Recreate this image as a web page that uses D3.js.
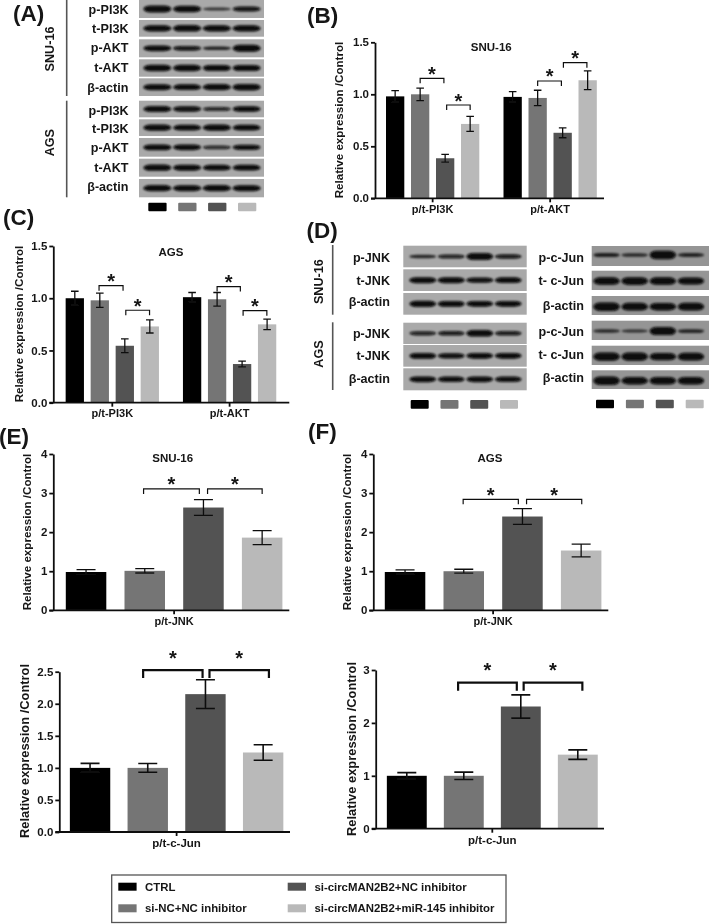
<!DOCTYPE html>
<html><head><meta charset="utf-8">
<script src="https://cdn.jsdelivr.net/npm/d3@7/dist/d3.min.js"></script>
<style>html,body{margin:0;padding:0;background:#fff}svg{display:block}
text{font-family:"Liberation Sans",Arial,sans-serif;font-weight:bold;fill:#151515}</style>
</head><body><svg id="c" width="709" height="924"></svg>
<script>
// ---------- data ----------
const seriesNames=["CTRL","si-NC+NC inhibitor","si-circMAN2B2+NC inhibitor","si-circMAN2B2+miR-145 inhibitor"];
const seriesColors=["#000000","#757575","#525252","#b9b9b9"];
const groupsPI3KAKT=["p/t-PI3K","p/t-AKT"];
const bValues=[[0.98,1.0,0.385,0.715],[0.975,0.965,0.63,1.135]];
const bErrors=[[0.055,0.06,0.038,0.072],[0.05,0.074,0.048,0.09]];
const cValues=[[1.0,0.98,0.545,0.73],[1.01,0.99,0.37,0.75]];
const cErrors=[[0.067,0.068,0.066,0.063],[0.045,0.065,0.028,0.05]];
const eJnkValues=[[0.98,1.01,2.63,1.86]];
const eJnkErrors=[[0.06,0.055,0.2,0.18]];
const eJunValues=[[1.0,1.0,2.15,1.24]];
const eJunErrors=[[0.07,0.068,0.225,0.12]];
const fJnkValues=[[0.98,1.0,2.4,1.53]];
const fJnkErrors=[[0.055,0.05,0.2,0.165]];
const fJunValues=[[1.0,1.0,2.31,1.4]];
const fJunErrors=[[0.06,0.07,0.22,0.09]];
// brackets: from-bar, to-bar (bar index units), level (axis units)
const bBrackets=[[1.0,1.95,1.154],[2.06,3.0,0.897],[5.0,5.95,1.128],[6.03,6.97,1.304]];
const cBrackets=[[0.97,1.93,1.12],[2.04,2.99,0.885],[5.0,5.93,1.112],[6.04,6.99,0.881]];
const eJnkBrackets=[[0.98,1.93,3.105],[2.07,3.0,3.105]];
const eJunBrackets=[[0.92,1.95,2.526],[2.07,3.1,2.526]];
const fJnkBrackets=[[0.99,1.93,2.84],[2.07,3.01,2.84]];
const fJunBrackets=[[0.9,1.93,2.76],[2.05,3.08,2.76]];
// blots: row labels and band strength per lane
const aRows=["p-PI3K","t-PI3K","p-AKT","t-AKT","β-actin","p-PI3K","t-PI3K","p-AKT","t-AKT","β-actin"];
const aBands=[[.9,.85,.22,.6],[.8,.85,.8,.8],[.7,.55,.35,.95],[.85,.85,.8,.8],[.75,.7,.8,.85],[.75,.65,.4,.7],[.8,.7,.8,.7],[.75,.7,.38,.65],[.8,.75,.7,.7],[.8,.75,.8,.75]];
const dLeftRows=["p-JNK","t-JNK","β-actin","p-JNK","t-JNK","β-actin"];
const dLeftBands=[[.3,.45,.95,.5],[.75,.75,.65,.7],[.8,.75,.7,.7],[.45,.5,.85,.5],[.75,.65,.7,.7],[.7,.65,.7,.65]];
const dRightRows=["p-c-Jun","t- c-Jun","β-actin","p-c-Jun","t- c-Jun","β-actin"];
const dRightBands=[[.35,.25,.95,.3],[.8,.85,.8,.75],[.95,.85,.8,.85],[.25,.2,.9,.3],[.9,.9,.8,.85],[.95,.8,.85,.85]];
const yLabel="Relative expression /Control";

// ---------- layout ----------
const svg=d3.select("#c");
const defs=svg.append("defs");
defs.append("filter").attr("id","soft").attr("x",0).attr("y",0).attr("width",1).attr("height",1)
  .append("feGaussianBlur").attr("stdDeviation",0.4);
defs.append("filter").attr("id","band").attr("x","-30%").attr("y","-100%").attr("width","160%").attr("height","300%")
  .append("feGaussianBlur").attr("stdDeviation",0.9);
const root=svg.append("g").attr("filter","url(#soft)");
root.append("rect").attr("width",709).attr("height",924).attr("fill","#fff");

function chart(o){
  const g=root.append("g");
  const y=d3.scaleLinear().domain(o.domain).range([o.y0,o.yTop]);
  const x0=d3.scaleBand().domain(o.groups).range([o.start,o.end]).paddingInner(o.gap);
  const xi=d3.scaleBand().domain(seriesNames).range([0,x0.bandwidth()]).paddingInner(o.pad).paddingOuter(o.pad/2);
  const bars=o.values.flatMap((vals,gi)=>vals.map((v,si)=>({v,e:o.errors[gi][si],gi,si,g:o.groups[gi],s:seriesNames[si]})));
  const cx=d=>x0(d.g)+xi(d.s)+xi.bandwidth()/2;
  const slot=d3.scaleLinear().domain(bars.map((d,i)=>i)).range(bars.map(cx));
  g.selectAll("rect.bar").data(bars).join("rect").attr("class","bar")
    .attr("x",d=>x0(d.g)+xi(d.s)).attr("width",xi.bandwidth())
    .attr("y",d=>y(d.v)).attr("height",d=>o.y0-y(d.v)).attr("fill",d=>seriesColors[d.si]);
  const eg=g.append("g").attr("stroke","#111").attr("stroke-width",o.errW).attr("fill","none");
  eg.selectAll("path").data(bars).join("path").attr("d",d=>{
    const c=cx(d),t=y(d.v+d.e),b=y(d.v-d.e),w=o.cap;
    return `M${c-w},${t}H${c+w}M${c},${t}V${b}M${c-w},${b}H${c+w}`;});
  // axes
  const ya=d3.axisLeft(y).tickValues(o.ticks).tickFormat(d3.format(o.fmt)).tickSize(4).tickPadding(2).tickSizeOuter(0);
  const ag=g.append("g").attr("transform",`translate(${o.xAxis},0)`).call(ya);
  ag.selectAll("text").style("font-size",o.tickFs+"px").attr("fill","#151515");
  ag.selectAll("line,path").attr("stroke","#111").attr("stroke-width",1.8);
  const xa=d3.axisBottom(x0).tickSize(4).tickSizeOuter(0).tickPadding(o.labPad);
  const bg=g.append("g").attr("transform",`translate(0,${o.y0})`).call(xa);
  bg.select("path.domain").remove();
  bg.selectAll("text").style("font-size",o.catFs+"px");
  bg.selectAll("line").attr("stroke","#111").attr("stroke-width",1.8);
  g.append("line").attr("x1",o.xAxis-4).attr("x2",o.axisEnd).attr("y1",o.y0).attr("y2",o.y0).attr("stroke","#111").attr("stroke-width",1.8);
  g.append("text").attr("transform",`translate(${o.labX},${o.labY}) rotate(-90)`).attr("text-anchor","middle")
    .style("font-size",o.labFs+"px").text(yLabel);
  if(o.title) g.append("text").attr("x",o.titleX).attr("y",o.titleY).attr("text-anchor","middle").style("font-size","11.5px").text(o.title);
  // brackets + stars
  const bg2=g.append("g");
  bg2.selectAll("path").data(o.brackets).join("path").attr("fill","none").attr("stroke","#111").attr("stroke-width",o.brW)
    .attr("d",d=>`M${slot(d[0])},${y(d[2])+o.brH}V${y(d[2])}H${slot(d[1])}V${y(d[2])+o.brH}`);
  bg2.selectAll("text").data(o.brackets).join("text").attr("text-anchor","middle").style("font-size","20px")
    .attr("x",d=>(slot(d[0])+slot(d[1]))/2+(o.starDx||0)).attr("y",d=>y(d[2])-o.starUp+9.5).text("*");
}

chart({groups:groupsPI3KAKT,values:bValues,errors:bErrors,brackets:bBrackets,domain:[0,1.5],ticks:[0,.5,1,1.5],fmt:".1f",
  y0:198.3,yTop:42.3,xAxis:375,start:382.65,end:600.15,gap:.149,pad:.268,axisEnd:604,cap:3.8,errW:1.3,brW:1.2,brH:5,starUp:7,
  labX:343,labY:120,labFs:11.6,tickFs:11.5,catFs:11,labPad:3,title:"SNU-16",titleX:491.3,titleY:50.5});
chart({groups:groupsPI3KAKT,values:cValues,errors:cErrors,brackets:cBrackets,domain:[0,1.5],ticks:[0,.5,1,1.5],fmt:".1f",
  y0:402.7,yTop:246,xAxis:53.3,start:62.3,end:279.6,gap:.1475,pad:.268,axisEnd:289.3,cap:3.8,errW:1.3,brW:1.2,brH:5,starUp:7,
  labX:23,labY:324,labFs:11.6,tickFs:11.5,catFs:11,labPad:3,title:"AGS",titleX:171,titleY:255.5});
chart({groups:["p/t-JNK"],values:eJnkValues,errors:eJnkErrors,brackets:eJnkBrackets,domain:[0,4],ticks:[0,1,2,3,4],fmt:"d",
  y0:610.3,yTop:454,xAxis:53.3,start:56.7,end:291.5,gap:0,pad:.31,axisEnd:289.3,cap:9.5,errW:1.3,brW:1.2,brH:5,starUp:7,
  labX:31,labY:532,labFs:11.6,tickFs:11.5,catFs:11,labPad:3,title:"SNU-16",titleX:172.7,titleY:462});
chart({groups:["p/t-c-Jun"],values:eJunValues,errors:eJunErrors,brackets:eJunBrackets,domain:[0,2.5],ticks:[0,.5,1,1.5,2,2.5],fmt:".1f",
  y0:832,yTop:671.7,xAxis:59.3,start:61.2,end:292,gap:0,pad:.3,axisEnd:290,cap:9.5,errW:1.6,brW:2.2,brH:8,starUp:15,
  labX:29,labY:751,labFs:12.9,tickFs:11.5,catFs:11.5,labPad:3,titleX:0,titleY:0});
chart({groups:["p/t-JNK"],values:fJnkValues,errors:fJnkErrors,brackets:fJnkBrackets,domain:[0,4],ticks:[0,1,2,3,4],fmt:"d",
  y0:610.3,yTop:454,xAxis:373.3,start:375.7,end:610.5,gap:0,pad:.31,axisEnd:608.3,cap:9.5,errW:1.3,brW:1.2,brH:5,starUp:7,
  labX:350.5,labY:532,labFs:11.6,tickFs:11.5,catFs:11,labPad:3,title:"AGS",titleX:490,titleY:462});
chart({groups:["p/t-c-Jun"],values:fJunValues,errors:fJunErrors,brackets:fJunBrackets,domain:[0,3],ticks:[0,1,2,3],fmt:"d",
  y0:828.7,yTop:670,xAxis:375.7,start:378.3,end:606.3,gap:0,pad:.3,axisEnd:604,cap:9.5,errW:1.6,brW:2.2,brH:8,starUp:15,
  labX:356,labY:749,labFs:12.9,tickFs:11.5,catFs:11.5,labPad:3,titleX:0,titleY:0});

// ---------- blots ----------
function blot(o){
  const g=root.append("g");
  const lane=d3.scaleBand().domain(d3.range(4)).range(o.laneRange);
  const h=d3.scaleLinear().domain([0,1]).range([.8,o.maxH]);
  const op=d3.scaleLinear().domain([0,.4,.7]).range([.55,.85,1]).clamp(true);
  o.tops.forEach((t,r)=>{
    g.append("rect").attr("x",o.x).attr("width",o.w).attr("y",t[0]).attr("height",t[1]-t[0]).attr("fill",o.bg);
    const cy=(t[0]+t[1])/2+(o.dy?o.dy[r]:0);
    g.append("g").attr("filter","url(#band)").selectAll("rect").data(o.bands[r]).join("rect")
      .attr("x",(d,i)=>lane(i)+lane.bandwidth()*.03).attr("width",lane.bandwidth()*.94)
      .attr("y",d=>cy-h(d)).attr("height",d=>2*h(d)).attr("rx",lane.bandwidth()*.25).attr("ry",d=>h(d))
      .attr("fill","#080808").attr("opacity",d=>op(d));
    g.append("text").attr("x",o.labX).attr("y",o.labY[r]+4.5).attr("text-anchor","end").style("font-size",o.fs+"px").text(o.rows[r]);
  });
}
const aTops=[[0,18],[20,36.7],[39.3,57.3],[59.3,76.7],[78.3,96],[100.7,117.3],[119.3,136],[138,156.7],[158.7,176.7],[179,197.3]];
blot({x:139,w:125,bg:"#a9a9a9",laneRange:[142.5,261.5],tops:aTops,bands:aBands,rows:aRows,labX:128.5,fs:12.6,maxH:3.7,
  labY:[9.5,28.5,47.5,67,87,110,128.5,147.5,167,186.5]});
blot({x:403.3,w:123.4,bg:"#a9a9a9",laneRange:[408.5,522.5],tops:[[245.7,267.3],[269.3,291],[293,314.7],[322.7,344],[345,366.7],[368.3,390.3]],
  bands:dLeftBands,rows:dLeftRows,labX:390,fs:12.6,maxH:3.7,labY:[257.3,280.7,301.7,333.3,355.7,378.3]});
blot({x:591.7,w:117.3,bg:"#959595",laneRange:[592.5,705],tops:[[246,266],[270.7,290],[296,315],[320.7,340],[345.7,365],[370.3,389]],
  bands:dRightBands,rows:dRightRows,labX:584,fs:12.6,maxH:4.4,labY:[257.3,280.3,305,331,354,377.7],dy:[-1,.7,1.2,.7,1.3,1.1]});

// chips under blots
function chips(x0,x1,y,h,w){
  const s=d3.scalePoint().domain(seriesNames).range([x0,x1]);
  root.append("g").selectAll("rect").data(seriesNames).join("rect")
    .attr("x",d=>s(d)).attr("y",y).attr("width",w).attr("height",h).attr("rx",1).attr("fill",(d,i)=>seriesColors[i]);
}
chips(148.3,238,202.7,8.5,18.3);
chips(410.7,500,400,8.7,18);
chips(596,685.7,399.7,8.5,18);

// vertical rules and side labels
const rules=[[66.7,0,96],[66.7,100.7,197.3],[332.7,245,314.7],[332.7,322.3,390]];
root.append("g").selectAll("line").data(rules).join("line").attr("x1",d=>d[0]).attr("x2",d=>d[0]).attr("y1",d=>d[1]).attr("y2",d=>d[2]).attr("stroke","#555").attr("stroke-width",1.6);
const sideLabels=[["SNU-16",54,49],["AGS",54,142.7],["SNU-16",323,281.7],["AGS",323,354]];
root.append("g").selectAll("text").data(sideLabels).join("text").attr("text-anchor","middle").style("font-size","12.6px")
  .attr("transform",d=>`translate(${d[1]},${d[2]}) rotate(-90)`).text(d=>d[0]);
const panelLetters=[["(A)",13,21],["(B)",307,23],["(C)",3,224.5],["(D)",306.5,238],["(E)",-1,444],["(F)",308,439]];
root.append("g").selectAll("text").data(panelLetters).join("text").attr("x",d=>d[1]).attr("y",d=>d[2]).style("font-size","22.5px").text(d=>d[0]);

// legend
const lg=root.append("g");
lg.append("rect").attr("x",111.7).attr("y",875).attr("width",394.3).attr("height",47.5).attr("fill","#fff").attr("stroke","#555").attr("stroke-width",1.3);
const lx=d3.scaleOrdinal().domain(seriesNames).range([118.3,118.3,287.7,287.7]);
const ly=d3.scaleOrdinal().domain(seriesNames).range([886.7,908.3,886.7,908.3]);
lg.selectAll("rect.k").data(seriesNames).join("rect").attr("class","k").attr("x",d=>lx(d)).attr("y",d=>ly(d)-4).attr("width",18.3).attr("height",8).attr("fill",(d,i)=>seriesColors[i]);
lg.selectAll("text").data(seriesNames).join("text").attr("x",d=>lx(d)+26.7).attr("y",d=>ly(d)+4).style("font-size","11.4px").text(d=>d);
</script></body></html>
